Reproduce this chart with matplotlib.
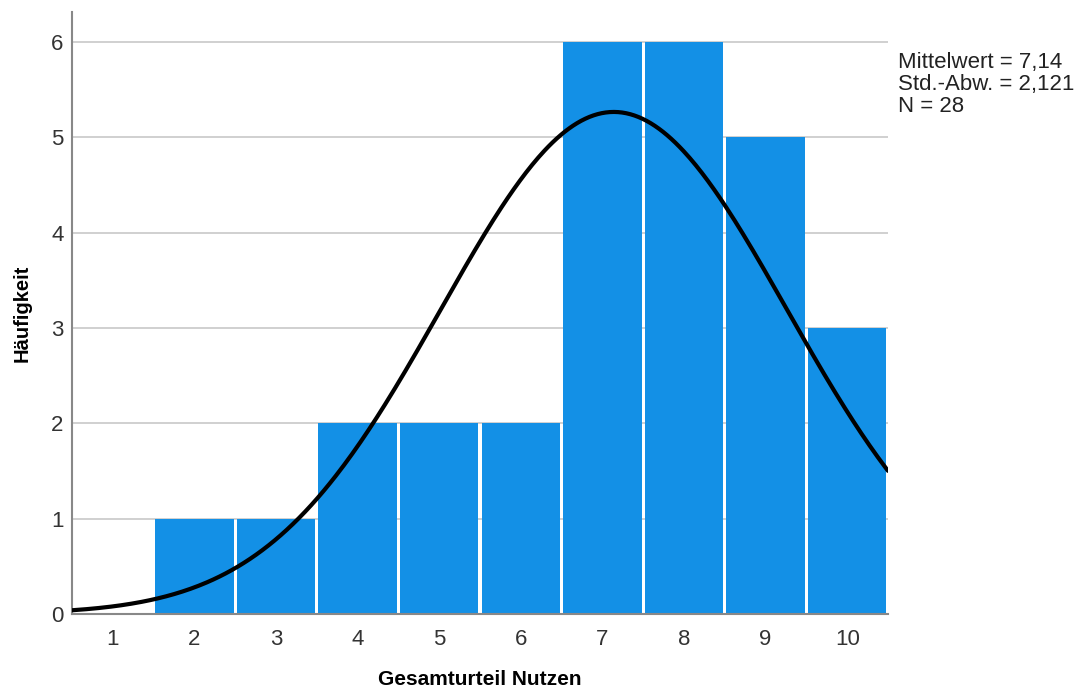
import numpy as np
import matplotlib
matplotlib.use("Agg")
import matplotlib.pyplot as plt

plt.rcParams['font.family'] = ['Liberation Sans', 'DejaVu Sans']

categories = [1, 2, 3, 4, 5, 6, 7, 8, 9, 10]
counts = [0, 1, 1, 2, 2, 2, 6, 6, 5, 3]
mean = 7.14
std = 2.121
n = 28
yticks = [0, 1, 2, 3, 4, 5, 6]
stats_text = "Mittelwert = 7,14\nStd.-Abw. = 2,121\nN = 28"
xlabel = "Gesamturteil Nutzen"
ylabel = "Häufigkeit"

fig = plt.figure(figsize=(10.8, 6.91), dpi=100)
ax = fig.add_axes([72/1080, 77/691, (888-72)/1080, (614-12)/691])

ax.bar(categories, counts, width=0.96, color='#1390E6', linewidth=0, zorder=2)

xs = np.linspace(0.5, 10.5, 400)
pdf = n * 1.0 / (std * np.sqrt(2 * np.pi)) * np.exp(-0.5 * ((xs - mean) / std) ** 2)
ax.plot(xs, pdf, color='black', linewidth=3, zorder=3, solid_capstyle='round')

ax.set_xlim(0.5, 10.5)
ax.set_ylim(0, 6.315)
ax.set_xticks(categories)
ax.set_yticks(yticks)
ax.tick_params(axis='both', length=0, labelsize=16, colors='#333333')
ax.tick_params(axis='x', pad=11)
ax.tick_params(axis='y', pad=6)
ax.yaxis.grid(True, color='#C8C8C8', linewidth=1.2, zorder=0)
ax.set_axisbelow(True)
for s in ['top', 'right']:
    ax.spines[s].set_visible(False)
ax.spines['left'].set_color('#888888')
ax.spines['bottom'].set_color('#888888')
ax.spines['left'].set_linewidth(1.5)
ax.spines['bottom'].set_linewidth(1.5)

ax.set_xlabel(xlabel, fontsize=15, fontweight='bold', labelpad=14)
ax.set_ylabel(ylabel, fontsize=14.5, fontweight='bold', labelpad=14)

fig.text(898/1080, 1 - 52/691, stats_text, fontsize=16, va='top', ha='left',
         color='#222222', linespacing=1.05)

fig.savefig('out.png', dpi=100)
